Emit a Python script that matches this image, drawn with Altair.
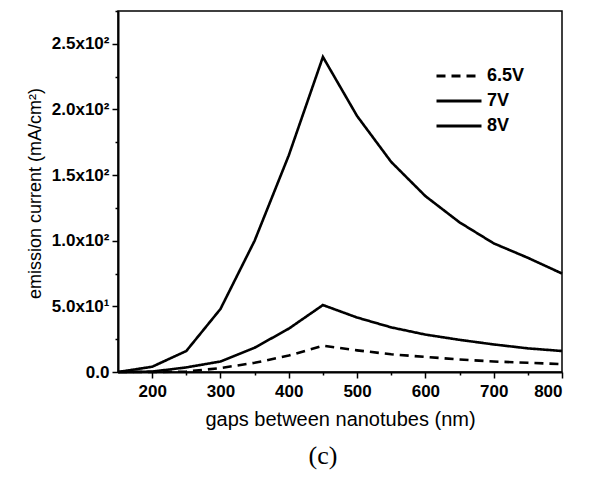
import altair as alt
import pandas as pd

gaps = [150, 200, 250, 300, 350, 400, 450, 500, 550, 600, 650, 700, 750, 800]
v65 = [0, 0, 0.3, 3, 7, 12.5, 20, 16.5, 13.5, 11.5, 9.5, 8, 7, 6]
v7 = [0, 0.3, 3.5, 8, 18.5, 33, 51, 41.5, 34, 28.5, 24.5, 21, 18, 16]
v8 = [0, 4, 16, 48, 100, 165, 240, 195, 160, 134, 114, 98, 87, 75]
series = ["6.5V", "7V", "8V"]

y_ticks = [0, 50, 100, 150, 200, 250]
y_tick_labels = ["0.0", "5.0x10¹", "1.0x10²", "1.5x10²", "2.0x10²", "2.5x10²"]
y_minor = [25, 75, 125, 175, 225, 275]
x_ticks = [200, 300, 400, 500, 600, 700, 800]
x_minor = [250, 350, 450, 550, 650, 750]

rows = []
for name, vals in zip(series, [v65, v7, v8]):
    for g, v in zip(gaps, vals):
        rows.append({"gap": g, "current": v, "series": name})
df = pd.DataFrame(rows)

label_expr = " : ".join(
    f"datum.value == {v} ? '{t}'" for v, t in zip(y_ticks, y_tick_labels)
) + " : ''"

FONT = "Liberation Sans"

xscale = alt.Scale(domain=[150, 800], nice=False, zero=False)
yscale = alt.Scale(domain=[0, 275], nice=False)

lines = alt.Chart(df).mark_line(color="black", strokeWidth=2.6).encode(
    x=alt.X("gap:Q", scale=xscale,
            axis=alt.Axis(values=x_ticks, title="gaps between nanotubes (nm)",
                          orient="bottom", tickSize=6, labelPadding=5,
                          titleY=47, titleBaseline="middle", titleFontSize=20,
                          labelFontWeight="bold")),
    y=alt.Y("current:Q", scale=yscale,
            axis=alt.Axis(values=y_ticks, labelExpr=label_expr,
                          title="emission current (mA/cm²)", orient="left",
                          tickSize=6, labelPadding=3,
                          titleX=-83, titleY=182, titleAngle=270,
                          titleAlign="center", titleBaseline="middle",
                          titleFontSize=18, labelFontWeight="bold")),
    strokeDash=alt.StrokeDash(
        "series:N",
        scale=alt.Scale(domain=series, range=[[9, 6], [1, 0], [1, 0]]),
        legend=alt.Legend(orient="none", legendX=317, legendY=56, title="",
                          symbolType="stroke", symbolSize=2025,
                          symbolStrokeWidth=3, symbolStrokeColor="black",
                          clipHeight=18,
                          labelFontSize=18, labelFont=FONT, labelOffset=4,
                          labelFontWeight="bold",
                          rowPadding=7, labelColor="black"),
    ),
)

minor = alt.Chart(df).mark_line(opacity=0).encode(
    x=alt.X("gap:Q", scale=xscale,
            axis=alt.Axis(values=x_minor, labels=False, domain=False,
                          tickSize=3, title="", orient="bottom")),
    y=alt.Y("current:Q", scale=yscale,
            axis=alt.Axis(values=y_minor, labels=False, domain=False,
                          tickSize=3, title="", orient="left")),
)

chart = alt.layer(lines, minor).resolve_axis(x="independent", y="independent").properties(
    width=444,
    height=361,
    autosize=alt.AutoSizeParams(type="none"),
    padding={"left": 110, "top": 3, "right": 15, "bottom": 100},
    title=alt.TitleParams("(c)", orient="bottom", font="Liberation Serif",
                          fontSize=26, fontWeight="normal", color="black",
                          offset=14, dx=-17),
).configure_view(stroke="black", strokeWidth=1.5).configure_axis(
    grid=False, domainColor="black", domainWidth=2, tickColor="black",
    tickWidth=1.5, labelColor="black", titleColor="black", labelFont=FONT,
    titleFont=FONT, labelFontSize=17, titleFontWeight="normal"
)

chart.save("out.html", embed_options={"renderer": "svg", "actions": False})
